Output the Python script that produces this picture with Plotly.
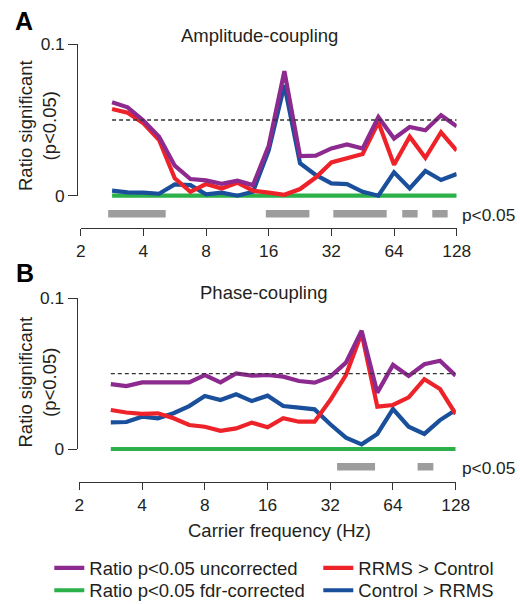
import plotly.graph_objects as go

W, H = 520, 604

# ---------------- data ----------------
freq = [2.83, 3.36, 4.0, 4.76, 5.66, 6.73, 8.0, 9.51, 11.31, 13.45, 16.0, 19.03,
        22.63, 26.91, 32.0, 38.05, 45.25, 53.82, 64.0, 76.11, 90.51, 107.63, 128.0]

amp_uncorr = [0.0617, 0.0584, 0.0496, 0.0390, 0.0198, 0.0110, 0.0101, 0.0079, 0.0099,
              0.0070, 0.0330, 0.0822, 0.0262, 0.0265, 0.0312, 0.0338, 0.0312, 0.0520,
              0.0378, 0.0454, 0.0432, 0.0531, 0.0458]
amp_fdr = [0, 0, 0, 0, 0, 0, 0, 0, 0, 0, 0, 0, 0, 0, 0, 0, 0, 0, 0, 0, 0, 0, 0]
amp_rrms = [0.0573, 0.0548, 0.0478, 0.0368, 0.0115, 0.0026, 0.0077, 0.0048, 0.0086,
            0.0033, 0.0020, 0.0006, 0.0044, 0.0120, 0.0220, 0.0250, 0.0276, 0.0485,
            0.0205, 0.0390, 0.0250, 0.0419, 0.0298]
amp_ctrl = [0.0033, 0.0022, 0.0020, 0.0013, 0.0075, 0.0070, 0.0009, 0.0020, 0.0000,
            0.0026, 0.0300, 0.0730, 0.0214, 0.0137, 0.0081, 0.0077, 0.0026, 0.0000,
            0.0154, 0.0048, 0.0163, 0.0104, 0.0143]

ph_uncorr = [0.0431, 0.0418, 0.0442, 0.0440, 0.0440, 0.0442, 0.0491, 0.0442, 0.0502,
             0.0487, 0.0491, 0.0480, 0.0451, 0.0440, 0.0480, 0.0573, 0.0785, 0.0374,
             0.0558, 0.0485, 0.0562, 0.0586, 0.0487]
ph_fdr = [0, 0, 0, 0, 0, 0, 0, 0, 0, 0, 0, 0, 0, 0, 0, 0, 0, 0, 0, 0, 0, 0, 0]
ph_rrms = [0.0259, 0.0242, 0.0233, 0.0237, 0.0204, 0.0159, 0.0148, 0.0121, 0.0137,
           0.0175, 0.0144, 0.0204, 0.0181, 0.0181, 0.0325, 0.0491, 0.0768, 0.0281,
           0.0292, 0.0343, 0.0463, 0.0398, 0.0232]
ph_ctrl = [0.0177, 0.0179, 0.0214, 0.0204, 0.0237, 0.0285, 0.0352, 0.0325, 0.0363,
           0.0318, 0.0354, 0.0285, 0.0274, 0.0263, 0.0164, 0.0075, 0.0031, 0.0100,
           0.0265, 0.0148, 0.0100, 0.0192, 0.0259]

amp_sig_start = [2.71, 15.5, 32.7, 70.1, 97.7]
amp_sig_end = [5.12, 25.1, 59.0, 83.1, 115.8]
ph_sig_start = [34.5, 84.0]
ph_sig_end = [52.5, 100.0]

chance_level = 0.05
x_tick_vals = [2, 4, 8, 16, 32, 64, 128]
x_tick_text = ["2", "4", "8", "16", "32", "64", "128"]
y_tick_vals = [0, 0.1]
y_tick_text = ["0", "0.1"]

series_names = ["Ratio p&lt;0.05 uncorrected", "Ratio p&lt;0.05 fdr-corrected",
                "RRMS &gt; Control", "Control &gt; RRMS"]

# ---------------- styling ----------------
FONT = "Liberation Sans, Arial, Helvetica, sans-serif"
TXT = "#231f20"
C_PURPLE = "#8c2a8f"
C_GREEN = "#2bb04a"
C_RED = "#ee2229"
C_BLUE = "#1a4f9c"
C_GRAY = "#9d9d9d"
AX = "#333333"
LW = 4.2


def fx(px):
    return px / W


def fy(py):
    return 1 - py / H


def seg_xy(starts, ends, yv):
    xs, ys = [], []
    for s, e in zip(starts, ends):
        xs += [s, e, None]
        ys += [yv, yv, None]
    return xs, ys


fig = go.Figure()

panels = [
    dict(xa="x", ya="y", yv="y3", x0px=80.7, x1px=456.7, xline=228.3, zero=195.7, top=44.3,
         yline=77.3, sig=213.7, data=(amp_uncorr, amp_fdr, amp_rrms, amp_ctrl),
         s0=amp_sig_start, s1=amp_sig_end, title="Amplitude-coupling", tx=259, ty=36,
         letter="A", lx=24, ly=20.5, ytitle_y=126, legend=True),
    dict(xa="x2", ya="y2", yv="y4", x0px=79.4, x1px=455.7, xline=482.3, zero=449.0, top=298.3,
         yline=76.7, sig=466.7, data=(ph_uncorr, ph_fdr, ph_rrms, ph_ctrl),
         s0=ph_sig_start, s1=ph_sig_end, title="Phase-coupling", tx=264, ty=292,
         letter="B", lx=25, ly=273.3, ytitle_y=382.5, legend=False),
]

# legend slot of each series: (legend id, text-left px, row-centre px)
legend_slots = [("legend", 92.3, 568.3), ("legend3", 92.3, 590.7),
                ("legend2", 361.3, 568.3), ("legend4", 361.3, 590.7)]

annotations = []
layout_axes = {}
for i, p in enumerate(panels):
    scale = (p["zero"] - p["top"]) / 0.1  # px per unit
    d_top, d_bot = p["top"] - 30, p["sig"] + 15
    yr = [(p["zero"] - d_bot) / scale, (p["zero"] - d_top) / scale]
    sig_y = (p["zero"] - p["sig"]) / scale

    uncorr, fdr, rrms, ctrl = p["data"]
    # significance bars
    sx, sy = seg_xy(p["s0"], p["s1"], sig_y)
    fig.add_trace(go.Scatter(x=sx, y=sy, mode="lines", line=dict(color=C_GRAY, width=7.5),
                             xaxis=p["xa"], yaxis=p["ya"], showlegend=False, hoverinfo="skip"))
    specs = [(fdr, C_GREEN, 1), (ctrl, C_BLUE, 3), (rrms, C_RED, 2), (uncorr, C_PURPLE, 0)]
    for vals, col, si in specs:
        fig.add_trace(go.Scatter(x=freq, y=vals, mode="lines", name=series_names[si],
                                 line=dict(color=col, width=LW),
                                 xaxis=p["xa"], yaxis=p["ya"], showlegend=p["legend"],
                                 legend=legend_slots[si][0]))
    # chance level dashed line on visible axis
    fig.add_trace(go.Scatter(x=[freq[0], freq[-1]], y=[chance_level, chance_level], mode="lines",
                             line=dict(color=AX, width=1.3, dash="4px,3px"),
                             xaxis=p["xa"], yaxis=p["yv"], showlegend=False, hoverinfo="skip"))

    xkey = "xaxis" if i == 0 else "xaxis2"
    ykey = "yaxis" if i == 0 else "yaxis2"
    yvkey = "yaxis3" if i == 0 else "yaxis4"
    layout_axes[xkey] = dict(type="log", range=[0.30103, 2.10721],
                             domain=[fx(p["x0px"]), fx(p["x1px"])],
                             anchor="free", position=fy(p["xline"]),
                             showline=True, linecolor=AX, linewidth=1.3,
                             ticks="outside", ticklen=7, tickwidth=1.3, tickcolor=AX,
                             tickvals=x_tick_vals, ticktext=x_tick_text,
                             tickfont=dict(size=17.3, color=TXT, family=FONT),
                             showgrid=False, zeroline=False)
    layout_axes[ykey] = dict(range=yr, domain=[fy(d_bot), fy(d_top)], visible=False,
                             anchor="free", position=0, showgrid=False, zeroline=False)
    layout_axes[yvkey] = dict(range=[0, 0.1], domain=[fy(p["zero"]), fy(p["top"])],
                              anchor="free", position=fx(p["yline"]),
                              showline=True, linecolor=AX, linewidth=1.3,
                              ticks="outside", ticklen=9, tickwidth=1.3, tickcolor=AX,
                              tickvals=y_tick_vals, ticktext=y_tick_text,
                              tickfont=dict(size=17.3, color=TXT, family=FONT),
                              showgrid=False, zeroline=False)

    annotations += [
        dict(text=p["title"], x=fx(p["tx"]), y=fy(p["ty"]), xref="paper", yref="paper",
             showarrow=False, xanchor="center", yanchor="middle",
             font=dict(size=18.5, color=TXT, family=FONT)),
        dict(text="<b>%s</b>" % p["letter"], x=fx(p["lx"]), y=fy(p["ly"]), xref="paper",
             yref="paper", showarrow=False, xanchor="center", yanchor="middle",
             font=dict(size=25, color="#000", family=FONT)),
        dict(text="Ratio significant<br>(p&lt;0.05)", x=fx(37), y=fy(p["ytitle_y"]),
             xref="paper", yref="paper", showarrow=False, textangle=-90,
             xanchor="center", yanchor="middle",
             font=dict(size=18.5, color=TXT, family=FONT)),
        dict(text="p&lt;0.05", x=fx(459.5), y=fy(p["sig"] + 1), xref="paper", yref="paper",
             showarrow=False, xanchor="left", yanchor="middle",
             font=dict(size=17.3, color=TXT, family=FONT)),
    ]

annotations.append(dict(text="Carrier frequency (Hz)", x=fx(279), y=fy(530), xref="paper",
                        yref="paper", showarrow=False, xanchor="center", yanchor="middle",
                        font=dict(size=18.5, color=TXT, family=FONT)))

legends = {}
for lid, tx, ty in legend_slots:
    legends[lid] = dict(orientation="v", x=fx(tx - 43), xanchor="left", y=fy(ty),
                        yanchor="middle", font=dict(size=18.5, color=TXT, family=FONT),
                        bgcolor="rgba(0,0,0,0)", borderwidth=0)

fig.update_layout(
    width=W, height=H, margin=dict(l=0, r=0, t=0, b=0, autoexpand=False),
    paper_bgcolor="white", plot_bgcolor="rgba(0,0,0,0)",
    font=dict(family=FONT, color=TXT),
    annotations=annotations,
    showlegend=True,
    **legends,
    **layout_axes,
)

fig.write_html("out.html")
